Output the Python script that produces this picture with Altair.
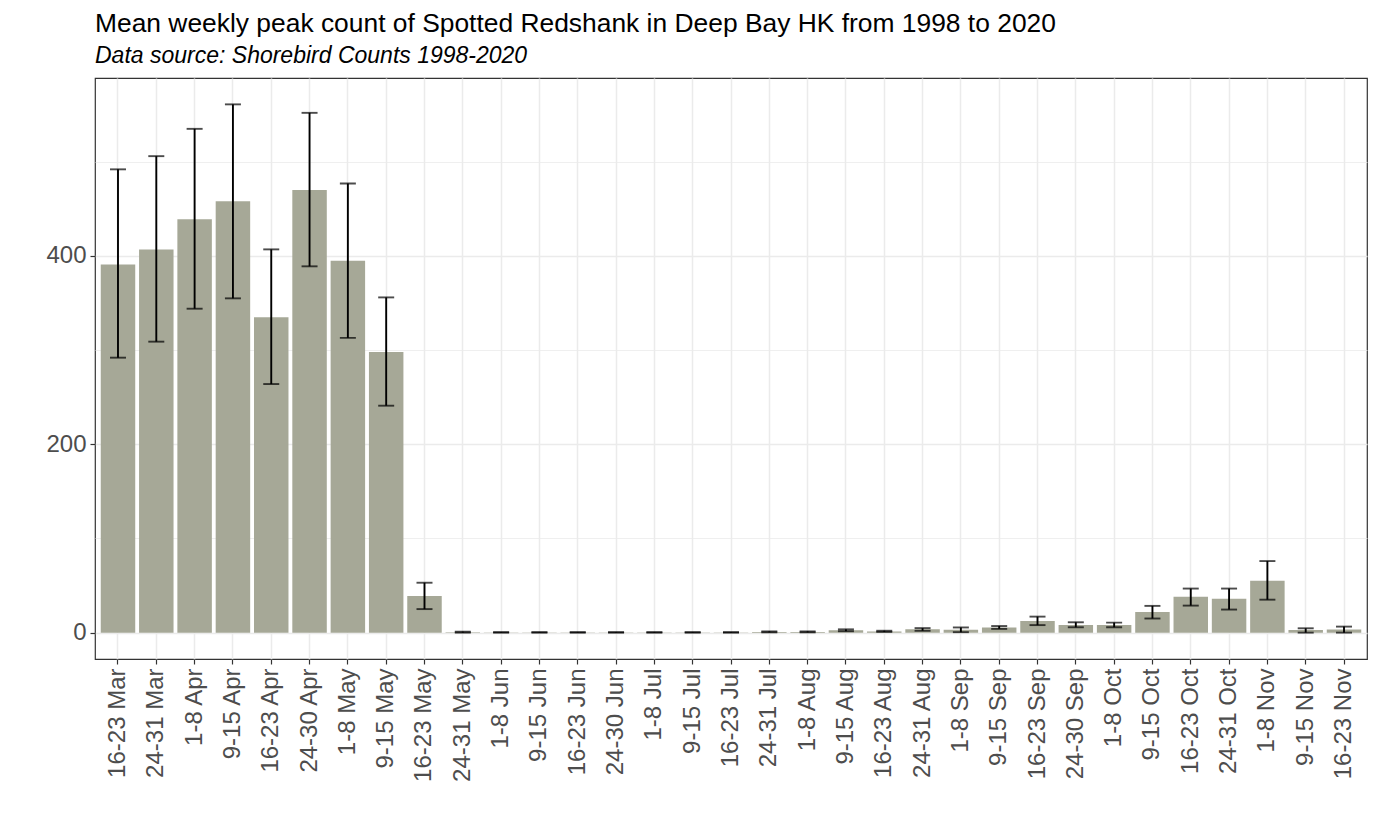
import altair as alt
import pandas as pd

categories = ["16-23 Mar", "24-31 Mar", "1-8 Apr", "9-15 Apr", "16-23 Apr", "24-30 Apr",
              "1-8 May", "9-15 May", "16-23 May", "24-31 May", "1-8 Jun", "9-15 Jun",
              "16-23 Jun", "24-30 Jun", "1-8 Jul", "9-15 Jul", "16-23 Jul", "24-31 Jul",
              "1-8 Aug", "9-15 Aug", "16-23 Aug", "24-31 Aug", "1-8 Sep", "9-15 Sep",
              "16-23 Sep", "24-30 Sep", "1-8 Oct", "9-15 Oct", "16-23 Oct", "24-31 Oct",
              "1-8 Nov", "9-15 Nov", "16-23 Nov"]
means = [391, 407, 439, 458, 335, 470, 395, 298, 39, 0.5, 0.2, 0.2,
         0.2, 0.2, 0.2, 0.2, 0.2, 0.8, 0.8, 2.5, 1.3, 3.5, 3.0, 5.5,
         12.4, 8.2, 8.2, 22, 38, 36, 55, 2.8, 3.2]
lower = [292, 309, 344, 355, 264, 389, 313, 241, 25, 0, 0, 0,
         0, 0, 0, 0, 0, 0.3, 0.3, 1.5, 0.8, 2.0, 0.5, 4.0,
         8, 5.7, 5.7, 15, 28.7, 24.5, 35, 0, 0]
upper = [492, 506, 535, 561, 407, 552, 477, 356, 53, 1.0, 0.5, 0.5,
         0.5, 0.5, 0.5, 0.5, 0.5, 1.3, 1.3, 3.5, 2.0, 4.8, 5.5, 7.0,
         17, 11, 10.6, 28.4, 46.8, 46.8, 76, 4.6, 6.4]
y_ticks = [0, 100, 200, 300, 400, 500]

df = pd.DataFrame({"week": categories, "mean": means, "lo": lower, "hi": upper})

FONT = "Liberation Sans"
major = "datum.value % 200 === 0"

x_enc = alt.X(
    "week:N", sort=categories, title=None,
    scale=alt.Scale(paddingInner=0.1, paddingOuter=0.15),
    axis=alt.Axis(labelAngle=270, labelAlign="right", labelBaseline="middle",
                  labelFontSize=24, labelFont=FONT, labelColor="#4D4D4D",
                  labelPadding=4, tickColor="#333333", tickSize=5, tickWidth=1.2,
                  domain=False, grid=True, gridColor="#EBEBEB", gridWidth=1.5),
)
y_scale = alt.Scale(domain=[-28, 589], nice=False, zero=False)
y_axis = alt.Axis(values=y_ticks, labelExpr=f"{major} ? datum.label : ''",
                  labelFontSize=24, labelFont=FONT, labelColor="#4D4D4D",
                  labelPadding=4, tickColor="#333333", tickSize=5, tickWidth=1.2,
                  tickOpacity={"condition": {"test": major, "value": 1}, "value": 0},
                  domain=False, grid=True, gridColor="#EBEBEB",
                  gridWidth={"condition": {"test": major, "value": 1.5}, "value": 0.8})

base = alt.Chart(df)
bars = base.mark_bar(color="#A6A897").encode(
    x=x_enc,
    y=alt.Y("mean:Q", scale=y_scale, axis=y_axis, title=None),
)
rules = base.mark_rule(color="black", strokeWidth=1.9).encode(
    x=alt.X("week:N", sort=categories), y="lo:Q", y2="hi:Q")
ticks_lo = base.mark_tick(color="black", thickness=1.9, size=16).encode(
    x=alt.X("week:N", sort=categories), y="lo:Q")
ticks_hi = base.mark_tick(color="black", thickness=1.9, size=16).encode(
    x=alt.X("week:N", sort=categories), y="hi:Q")

chart = alt.layer(bars, rules, ticks_lo, ticks_hi).properties(
    width=1272, height=581,
    title=alt.TitleParams(
        text="Mean weekly peak count of Spotted Redshank in Deep Bay HK from 1998 to 2020",
        subtitle="Data source: Shorebird Counts 1998-2020",
        anchor="start", frame="group", font=FONT, fontSize=26.4, fontWeight="normal",
        color="black", subtitleFont=FONT, subtitleFontSize=23,
        subtitleFontStyle="italic", subtitleColor="black", subtitlePadding=8, offset=10),
    autosize=alt.AutoSizeParams(type="none"),
    padding={"left": 87, "top": 70, "right": 4, "bottom": 150},
).configure_view(stroke="#333333", strokeWidth=1.2)

chart.save("out.html", embed_options={"renderer": "svg", "actions": False})
